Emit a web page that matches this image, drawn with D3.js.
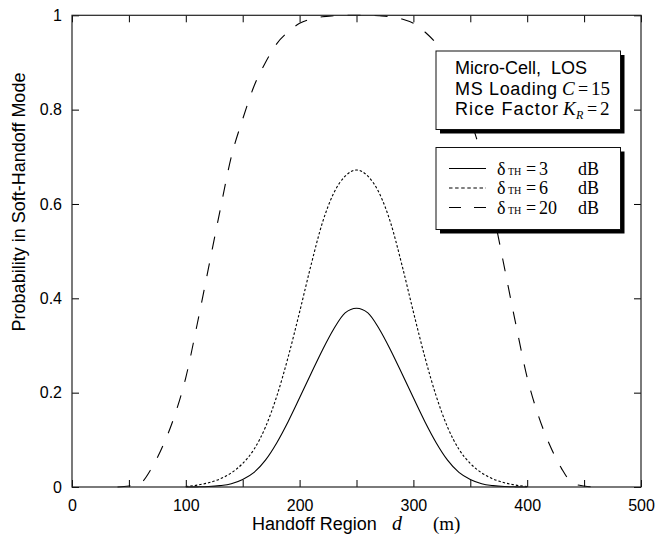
<!DOCTYPE html>
<html>
<head>
<meta charset="utf-8">
<script src="https://cdn.jsdelivr.net/npm/d3@7"></script>
<style>
  html, body { margin: 0; padding: 0; background: #fff; }
  svg { display: block; }
  text { font-family: "Liberation Sans", Arial, Helvetica, sans-serif; fill: #000; white-space: pre; }
</style>
</head>
<body>
<div id="chart"></div>
<script>
// ---- data ----
const dist3 = [100,110,120,130,140,150,160,170,180,190,200,210,220,230,240,250,260,270,280,290,300,310,320,330,340,350,360,370,380,390,400];
const prob3 = [0,0.0003,0.001,0.003,0.007,0.016,0.031,0.057,0.094,0.139,0.189,0.240,0.290,0.335,0.369,0.379,0.369,0.335,0.290,0.240,0.189,0.139,0.094,0.057,0.031,0.016,0.007,0.003,0.001,0.0003,0];

const dist6 = [100,110,120,130,140,150,160,170,180,190,200,210,220,230,240,250,260,270,280,290,300,310,320,330,340,350,360,370,380,390,400];
const prob6 = [0.001,0.004,0.009,0.017,0.030,0.050,0.080,0.127,0.193,0.276,0.371,0.470,0.560,0.623,0.659,0.672,0.659,0.623,0.560,0.470,0.371,0.276,0.193,0.127,0.080,0.050,0.030,0.017,0.009,0.004,0.001];

const dist20 = [40,50,60,70,80,90,100,110,120,130,140,150,160,170,180,190,200,210,220,230,240,250,260,270,280,290,300,310,320,330,340,350,360,370,380,390,400,410,420,430,440,450,460];
const prob20 = [0,0.002,0.008,0.040,0.088,0.150,0.232,0.345,0.465,0.585,0.700,0.780,0.850,0.900,0.940,0.965,0.983,0.992,0.997,0.999,1.0,1.0,1.0,0.999,0.997,0.992,0.983,0.965,0.940,0.900,0.850,0.780,0.700,0.585,0.465,0.345,0.232,0.150,0.088,0.040,0.008,0.002,0];

const xTicks = [0,50,100,150,200,250,300,350,400,450,500];
const xTickLabels = [0,100,200,300,400,500];
const yTicks = [0,0.2,0.4,0.6,0.8,1];
const yTickLabels = ["0","0.2","0.4","0.6","0.8","1"];

const seriesNames = ["3", "6", "20"];
const infoLines = ["Micro-Cell,  LOS", "MS Loading", "Rice Factor"];

// ---- layout ----
const W = 656, H = 537;
const m = { left: 72, right: 15, top: 15.3, bottom: 50 };
const w = W - m.left - m.right, h = H - m.top - m.bottom;

const svg = d3.select("#chart").append("svg").attr("width", W).attr("height", H);
const g = svg.append("g").attr("transform", `translate(${m.left},${m.top})`);

const x = d3.scaleLinear().domain([0, 500]).range([0, w]);
const y = d3.scaleLinear().domain([0, 1]).range([h, 0]);

const line = d3.line().x(d => x(d[0])).y(d => y(d[1])).curve(d3.curveMonotoneX);

const series = [
  { name: seriesNames[0], pts: dist3.map((d, i) => [d, prob3[i]]), dash: null },
  { name: seriesNames[1], pts: dist6.map((d, i) => [d, prob6[i]]), dash: "2.5,2" },
  { name: seriesNames[2], pts: dist20.map((d, i) => [d, prob20[i]]), dash: "13,14" }
];

g.selectAll("path.curve").data(series).enter().append("path")
  .attr("class", "curve")
  .attr("d", s => line(s.pts))
  .attr("fill", "none")
  .attr("stroke", "#000")
  .attr("stroke-width", 1.1)
  .attr("stroke-dasharray", s => s.dash);

// ---- axes (inward ticks on all four sides) ----
const fmtX = d => xTickLabels.includes(d) ? String(d) : "";
const fmtY = d => yTickLabels[yTicks.indexOf(d)];

const axB = g.append("g").attr("transform", `translate(0,${h})`)
  .call(d3.axisBottom(x).tickValues(xTicks).tickSize(-7).tickPadding(13).tickFormat(fmtX));
const axT = g.append("g")
  .call(d3.axisTop(x).tickValues(xTicks).tickSize(-7).tickFormat(""));
const axL = g.append("g")
  .call(d3.axisLeft(y).tickValues(yTicks).tickSize(-7).tickPadding(10).tickFormat(fmtY));
const axR = g.append("g").attr("transform", `translate(${w},0)`)
  .call(d3.axisRight(y).tickValues(yTicks).tickSize(-7).tickFormat(""));

[axB, axT, axL, axR].forEach(a => {
  a.select(".domain").remove();
  a.selectAll(".tick line").attr("stroke", "#000").attr("stroke-width", 1);
  a.selectAll("text").style("font-family", '"Liberation Sans", Arial, sans-serif')
    .style("font-size", "16px").attr("fill", "#000");
});

g.append("rect").attr("x", 0).attr("y", 0).attr("width", w).attr("height", h)
  .attr("fill", "none").attr("stroke", "#222").attr("stroke-width", 1.2);

// ---- axis titles ----
const serif = '"Liberation Serif", "Times New Roman", serif';
const xt = svg.append("text").attr("y", 530).attr("x", 252).style("font-size", "18px");
xt.append("tspan").text("Handoff Region");
xt.append("tspan").attr("x", 392).style("font-family", serif)
  .style("font-style", "italic").style("font-size", "20px").text("d");
xt.append("tspan").attr("x", 433).style("font-family", serif)
  .style("font-size", "19px").text("(m)");

svg.append("text")
  .attr("transform", `translate(25,202) rotate(-90)`)
  .attr("text-anchor", "middle")
  .style("font-size", "18px")
  .text("Probability in Soft-Handoff Mode");

// ---- info box ----
function shadowBox(x0, y0, bw, bh) {
  svg.append("rect").attr("x", x0 + 4).attr("y", y0 + 4).attr("width", bw).attr("height", bh).attr("fill", "#000");
  svg.append("rect").attr("x", x0).attr("y", y0).attr("width", bw).attr("height", bh)
    .attr("fill", "#fff").attr("stroke", "#111").attr("stroke-width", 1);
}
shadowBox(436, 51, 184.5, 78.5);

svg.append("text").attr("x", 455).attr("y", 73.5).style("font-size", "18px").text(infoLines[0]);
svg.append("text").attr("x", 455).attr("y", 94.5).style("font-size", "18px")
  .attr("textLength", 102).attr("lengthAdjust", "spacing").text(infoLines[1]);
const l2 = svg.append("text").attr("y", 94.5).style("font-family", serif);
l2.append("tspan").attr("x", 562).style("font-style", "italic").style("font-size", "19px").text("C");
l2.append("tspan").attr("x", 578).style("font-size", "18px").text("=");
l2.append("tspan").attr("x", 591).style("font-size", "19px").text("15");

svg.append("text").attr("x", 455).attr("y", 115).style("font-size", "18px")
  .attr("textLength", 103).attr("lengthAdjust", "spacing").text(infoLines[2]);
const l3 = svg.append("text").attr("y", 115).style("font-family", serif);
l3.append("tspan").attr("x", 563).style("font-style", "italic").style("font-size", "19px").text("K");
l3.append("tspan").attr("x", 576).attr("dy", 4).style("font-style", "italic").style("font-size", "12px").text("R");
l3.append("tspan").attr("x", 587).attr("dy", -4).style("font-size", "18px").text("=");
l3.append("tspan").attr("x", 600).style("font-size", "19px").text("2");

// ---- legend ----
shadowBox(436, 147.5, 184.5, 82);
const rowY = [174.5, 194, 213.5];
series.forEach((s, i) => {
  const yy = rowY[i];
  svg.append("line").attr("x1", 449).attr("x2", 486).attr("y1", yy - 6).attr("y2", yy - 6)
    .attr("stroke", "#000").attr("stroke-width", 1.1)
    .attr("stroke-dasharray", i === 1 ? "3.5,2.6" : (i === 2 ? "12,13" : null));
  const t = svg.append("text").attr("y", yy).style("font-family", serif);
  t.append("tspan").attr("x", 497).style("font-size", "18px").text("δ");
  t.append("tspan").attr("x", 508).style("font-size", "10px").text("TH");
  t.append("tspan").attr("x", 526).style("font-size", "18px").text("=");
  t.append("tspan").attr("x", 539).style("font-size", "18px").text(s.name);
  t.append("tspan").attr("x", 578).style("font-size", "18px").text("dB");
});
</script>
</body>
</html>
